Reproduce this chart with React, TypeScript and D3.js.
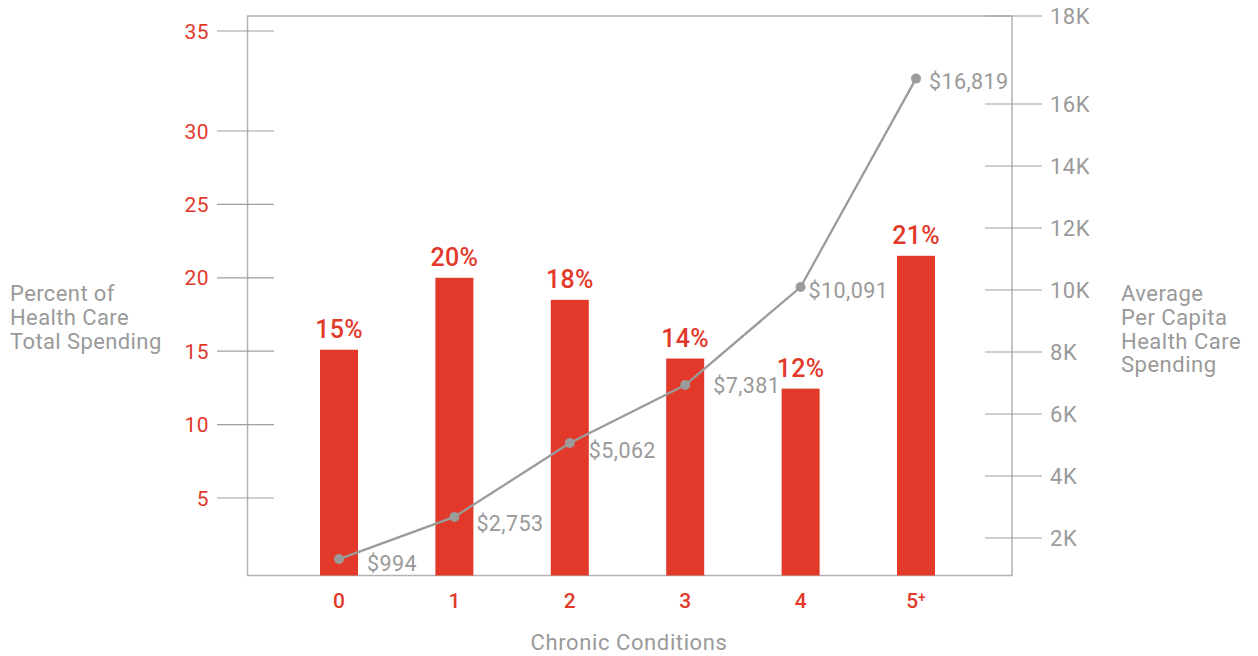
import React from "react";
import * as d3 from "d3";

const categories = ["0", "1", "2", "3", "4", "5"];
const shareValues = [15.1, 20, 18.5, 14.5, 12.45, 21.5];
const shareLabels = ["15%", "20%", "18%", "14%", "12%", "21%"];
const spendValues = [1320, 2680, 5065, 6935, 10095, 16819];
const spendLabels = ["$994", "$2,753", "$5,062", "$7,381", "$10,091", "$16,819"];
const leftTicks = [5, 10, 15, 20, 25, 30, 35];
const rightTicks = [2000, 4000, 6000, 8000, 10000, 12000, 14000, 16000, 18000];
const labelOffsets: [number, number][] = [
  [28, 12], [22, 14], [19, 15], [28, 8], [8, 11], [13, 10],
];

const W = 1258, H = 656;
const plot = { left: 247.5, right: 1012, top: 16, bottom: 575.5 };
const RED = "#E2392A";
const GREY = "#9a9a9a";
const LINE = "#9b9b9b";
const FONT = "Roboto, 'DejaVu Sans', sans-serif";

export default function App() {
  const x = d3.scaleBand<string>().domain(categories).range([281.3, 973.7]).padding(0);
  const cx = (c: string) => (x(c) as number) + x.bandwidth() / 2;
  const yL = d3.scaleLinear().domain([0, 30, 35]).range([571.4, 131, 31]);
  const yR = d3.scaleLinear().domain([0, 17000, 18000]).range([600, 73, 16]);
  const barW = 38;
  const line = d3
    .line<number>()
    .x((_, i) => cx(categories[i]))
    .y((d) => yR(d));

  return (
    <svg width={W} height={H} style={{ position: "absolute", left: 0, top: 0 }} fontFamily={FONT}>
      <rect x={0} y={0} width={W} height={H} fill="#fff" />
      <rect x={plot.left} y={plot.top} width={plot.right - plot.left} height={plot.bottom - plot.top}
        fill="none" stroke="#b3b3b3" strokeWidth={1.5} />
      {leftTicks.map((t) => (
        <g key={"l" + t}>
          <line x1={217} x2={274} y1={yL(t)} y2={yL(t)} stroke="#a0a0a0" strokeWidth={1.2} />
          <text x={209} y={yL(t) + 7.5} textAnchor="end" fill={RED} fontSize={21} letterSpacing={0.5}>{t}</text>
        </g>
      ))}
      {rightTicks.map((t) => (
        <g key={"r" + t}>
          <line x1={985} x2={1042} y1={yR(t)} y2={yR(t)} stroke="#a0a0a0" strokeWidth={1.2} />
          <text x={1050} y={yR(t) + 7.5} textAnchor="start" fill={GREY} fontSize={22} letterSpacing={0.5}>{t / 1000}K</text>
        </g>
      ))}
      {shareValues.map((v, i) => (
        <g key={"b" + i}>
          <rect x={cx(categories[i]) - barW / 2} y={yL(v)} width={barW} height={plot.bottom - yL(v)} fill={RED} />
          <text x={cx(categories[i])} y={yL(v) - 12} textAnchor="middle" fill={RED} fontSize={25} fontWeight={500} letterSpacing={0.3}>
            {shareLabels[i]}
          </text>
        </g>
      ))}
      <path d={line(spendValues) || ""} fill="none" stroke={LINE} strokeWidth={2.3} />
      {spendValues.map((v, i) => (
        <g key={"p" + i}>
          <circle cx={cx(categories[i])} cy={yR(v)} r={5} fill={LINE} />
          <text x={cx(categories[i]) + labelOffsets[i][0]} y={yR(v) + labelOffsets[i][1]} fill={GREY} fontSize={21.5} letterSpacing={0.4}>
            {spendLabels[i]}
          </text>
        </g>
      ))}
      {categories.map((c, i) => (
        <text key={"x" + c} x={cx(c)} y={608} textAnchor="middle" fill={RED} fontSize={21} fontWeight={500}>
          {c}
          {i === categories.length - 1 ? <tspan fontSize={14} dy={-6}>+</tspan> : null}
        </text>
      ))}
      <text x={629} y={650} textAnchor="middle" fill={GREY} fontSize={22} letterSpacing={0.6}>Chronic Conditions</text>
      <text fill={GREY} fontSize={22} letterSpacing={0.4}>
        <tspan x={10} y={301}>Percent of</tspan>
        <tspan x={10} y={325}>Health Care</tspan>
        <tspan x={10} y={349}>Total Spending</tspan>
      </text>
      <text fill={GREY} fontSize={22} letterSpacing={0.5}>
        <tspan x={1121} y={301}>Average</tspan>
        <tspan x={1121} y={325}>Per Capita</tspan>
        <tspan x={1121} y={349}>Health Care</tspan>
        <tspan x={1121} y={372}>Spending</tspan>
      </text>
    </svg>
  );
}
